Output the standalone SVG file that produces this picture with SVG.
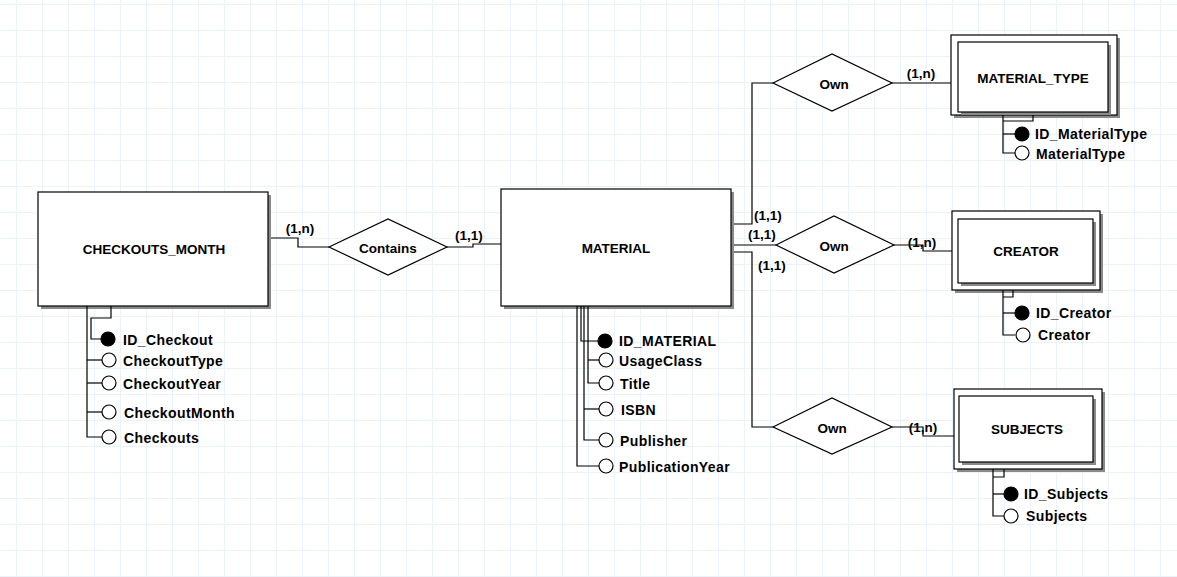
<svg xmlns="http://www.w3.org/2000/svg" width="1177" height="577" viewBox="0 0 1177 577">
<defs>
<pattern id="grid" x="16" y="4" width="26" height="26" patternUnits="userSpaceOnUse">
<path d="M0.5 0 V26 M0 0.5 H26" fill="none" stroke="#ebf2fa" stroke-width="1"/>
</pattern>
</defs>
<style>
.ent{fill:#fff;stroke:#000;stroke-width:1.2}
.sh{fill:#8a8a8a;stroke:none}
.rel{fill:#fff;stroke:#000;stroke-width:1.2}
.ln{fill:none;stroke:#000;stroke-width:1.2}
.t{font-family:"Liberation Sans",Arial,sans-serif;font-weight:bold;fill:#000}
.title{font-size:13.5px;text-anchor:middle;dominant-baseline:central}
.attr{font-size:14px;letter-spacing:0.4px;dominant-baseline:central}
.card{font-size:13.5px;text-anchor:middle;dominant-baseline:central}
.pk{fill:#000;stroke:#000;stroke-width:1.2}
.at{fill:#fff;stroke:#000;stroke-width:1.2}
</style>
<rect x="0" y="0" width="1177" height="577" fill="#fff"/>
<rect x="0" y="0" width="1177" height="577" fill="url(#grid)"/>

<g id="connectors">
<polyline class="ln" points="268,238 298,238 298,247 329,247"/>
<polyline class="ln" points="447,247 473,247 473,244 501,244"/>
<polyline class="ln" points="731,224 752,224 752,83 773,83"/>
<line class="ln" x1="892" y1="83" x2="951" y2="83"/>
<line class="ln" x1="731" y1="245" x2="776" y2="245"/>
<polyline class="ln" points="894,245 923,245 923,251 952,251"/>
<polyline class="ln" points="731,252 752,252 752,427 773,427"/>
<polyline class="ln" points="892,427 923,427 923,436 954,436"/>
<text class="t card" x="300" y="228">(1,n)</text>
<text class="t card" x="469" y="235">(1,1)</text>
<text class="t card" x="921" y="73">(1,n)</text>
<text class="t card" x="768" y="215">(1,1)</text>
<text class="t card" x="762" y="234">(1,1)</text>
<text class="t card" x="772" y="265">(1,1)</text>
<text class="t card" x="922" y="242">(1,n)</text>
<text class="t card" x="923" y="427">(1,n)</text>
</g>

<g id="checkouts_month">
<rect class="sh" x="41" y="195" width="230" height="114"/>
<rect class="ent" x="38" y="192" width="230" height="114"/>
<text class="t title" x="154" y="249">CHECKOUTS_MONTH</text>
<polyline class="ln" points="87,306 87,437 102,437"/>
<line class="ln" x1="87" y1="360" x2="102" y2="360"/>
<line class="ln" x1="87" y1="383" x2="102" y2="383"/>
<line class="ln" x1="87" y1="412" x2="102" y2="412"/>
<polyline class="ln" points="111,306 111,318 91,318 91,339 101,339"/>
<circle class="pk" cx="108" cy="339" r="7"/>
<circle class="at" cx="109" cy="360" r="7"/>
<circle class="at" cx="109" cy="383" r="7"/>
<circle class="at" cx="109" cy="412" r="7"/>
<circle class="at" cx="109" cy="437" r="7"/>
<text class="t attr" x="123" y="340">ID_Checkout</text>
<text class="t attr" x="123" y="361">CheckoutType</text>
<text class="t attr" x="123" y="384">CheckoutYear</text>
<text class="t attr" x="124" y="413">CheckoutMonth</text>
<text class="t attr" x="124" y="438">Checkouts</text>
</g>

<g id="contains">
<polygon class="rel" points="329,247 388,219 447,247 388,275"/>
<text class="t title" x="388" y="248">Contains</text>
</g>

<g id="material">
<rect class="sh" x="504" y="192" width="230" height="117"/>
<rect class="ent" x="501" y="189" width="230" height="117"/>
<text class="t title" x="616" y="248">MATERIAL</text>
<polyline class="ln" points="577,306 577,466 599,466"/>
<polyline class="ln" points="581,306 581,341 598,341"/>
<polyline class="ln" points="584,306 584,440 599,440"/>
<line class="ln" x1="584" y1="409" x2="599" y2="409"/>
<polyline class="ln" points="588,306 588,383 599,383"/>
<line class="ln" x1="588" y1="360" x2="599" y2="360"/>
<circle class="pk" cx="605" cy="341" r="7"/>
<circle class="at" cx="606" cy="360" r="7"/>
<circle class="at" cx="606" cy="383" r="7"/>
<circle class="at" cx="606" cy="409" r="7"/>
<circle class="at" cx="606" cy="440" r="7"/>
<circle class="at" cx="606" cy="466" r="7"/>
<text class="t attr" x="619" y="341">ID_MATERIAL</text>
<text class="t attr" x="619" y="361">UsageClass</text>
<text class="t attr" x="620" y="384">Title</text>
<text class="t attr" x="621" y="410">ISBN</text>
<text class="t attr" x="620" y="441">Publisher</text>
<text class="t attr" x="619" y="467">PublicationYear</text>
</g>

<g id="own_type">
<polygon class="rel" points="773,83 832,54 892,83 832,111"/>
<text class="t title" x="834" y="84">Own</text>
</g>

<g id="material_type">
<rect class="sh" x="954" y="38" width="166" height="80"/>
<rect class="ent" x="951" y="35" width="166" height="80"/>
<rect class="sh" x="961" y="45" width="150" height="70"/>
<rect class="ent" x="958" y="42" width="150" height="70"/>
<text class="t title" x="1033" y="78">MATERIAL_TYPE</text>
<polyline class="ln" points="1033,115 1033,121 1003,121"/>
<polyline class="ln" points="1003,115 1003,153 1015,153"/>
<line class="ln" x1="1003" y1="134" x2="1015" y2="134"/>
<circle class="pk" cx="1022" cy="134" r="7"/>
<circle class="at" cx="1022" cy="153" r="7"/>
<text class="t attr" x="1035" y="134">ID_MaterialType</text>
<text class="t attr" x="1036" y="154">MaterialType</text>
</g>

<g id="own_creator">
<polygon class="rel" points="776,245 834,216 894,245 834,273"/>
<text class="t title" x="834" y="246">Own</text>
</g>

<g id="creator">
<rect class="sh" x="955" y="214" width="148" height="79"/>
<rect class="ent" x="952" y="211" width="148" height="79"/>
<rect class="sh" x="961" y="222" width="135" height="64"/>
<rect class="ent" x="958" y="219" width="135" height="64"/>
<text class="t title" x="1026" y="251">CREATOR</text>
<polyline class="ln" points="1013,290 1013,297 1003,297"/>
<polyline class="ln" points="1003,290 1003,335 1015,335"/>
<line class="ln" x1="1003" y1="313" x2="1015" y2="313"/>
<circle class="pk" cx="1022" cy="313" r="7"/>
<circle class="at" cx="1023" cy="335" r="7"/>
<text class="t attr" x="1036" y="313">ID_Creator</text>
<text class="t attr" x="1038" y="335">Creator</text>
</g>

<g id="own_subjects">
<polygon class="rel" points="773,427 832,398 892,427 832,454"/>
<text class="t title" x="832" y="428">Own</text>
</g>

<g id="subjects">
<rect class="sh" x="957" y="392" width="148" height="80"/>
<rect class="ent" x="954" y="389" width="148" height="80"/>
<rect class="sh" x="962" y="399" width="134" height="66"/>
<rect class="ent" x="959" y="396" width="134" height="66"/>
<text class="t title" x="1027" y="429">SUBJECTS</text>
<polyline class="ln" points="1004,469 1004,477 993,477"/>
<polyline class="ln" points="993,469 993,516 1004,516"/>
<line class="ln" x1="993" y1="494" x2="1004" y2="494"/>
<circle class="pk" cx="1011" cy="494" r="7"/>
<circle class="at" cx="1011" cy="516" r="7"/>
<text class="t attr" x="1024" y="494">ID_Subjects</text>
<text class="t attr" x="1026" y="516">Subjects</text>
</g>
</svg>
